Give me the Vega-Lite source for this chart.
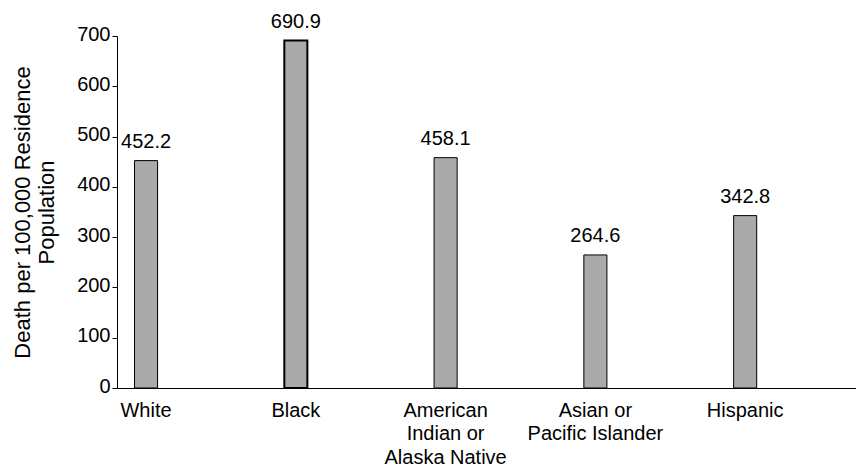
{
  "$schema": "https://vega.github.io/schema/vega-lite/v6.json",
  "autosize": {"type": "none"},
  "padding": {"left": 117, "top": 36, "right": 0, "bottom": 83},
  "width": 739,
  "height": 352,
  "background": "white",
  "config": {
    "font": "Liberation Sans",
    "view": {"stroke": null},
    "axis": {"domainColor": "black", "tickColor": "black", "labelColor": "black", "titleColor": "black", "grid": false, "labelFont": "Liberation Sans", "titleFont": "Liberation Sans"}
  },
  "data": {
    "values": [
      {"group": "White", "rate": 452.2},
      {"group": "Black", "rate": 690.9},
      {"group": "American Indian or Alaska Native", "rate": 458.1},
      {"group": "Asian or Pacific Islander", "rate": 264.6},
      {"group": "Hispanic", "rate": 342.8}
    ]
  },
  "encoding": {
    "x": {
      "field": "group",
      "type": "nominal",
      "sort": null,
      "scale": {"paddingInner": 0.846, "paddingOuter": 0.39, "align": 0.15},
      "axis": {
        "title": null,
        "labelAngle": 0,
        "ticks": false,
        "labelPadding": 12,
        "labelFontSize": 20,
        "labelLineHeight": 23.5,
        "labelBaseline": "top",
        "labelExpr": "datum.label == 'American Indian or Alaska Native' ? ['American', 'Indian or', 'Alaska Native'] : datum.label == 'Asian or Pacific Islander' ? ['Asian or', 'Pacific Islander'] : datum.label"
      }
    },
    "y": {
      "field": "rate",
      "type": "quantitative",
      "scale": {"domain": [0, 700], "nice": false},
      "axis": {
        "values": [0, 100, 200, 300, 400, 500, 600, 700],
        "title": ["Death per 100,000 Residence", "Population"],
        "titleFontSize": 22,
        "titleFontWeight": "normal",
        "titleLineHeight": 24,
        "titlePadding": 18,
        "tickSize": 5,
        "labelPadding": 2,
        "labelFontSize": 20,
        "labelBaseline": "middle",
        "labelOffset": -2
      }
    }
  },
  "layer": [
    {
      "mark": {"type": "bar", "fill": "#aaaaaa", "stroke": "black"},
      "encoding": {
        "strokeWidth": {"condition": {"test": "datum.group == 'Black'", "value": 2}, "value": 1}
      }
    },
    {
      "mark": {"type": "text", "baseline": "alphabetic", "dy": -13, "fontSize": 20, "color": "black"},
      "encoding": {"text": {"field": "rate", "type": "quantitative", "format": ".1f"}}
    }
  ]
}
